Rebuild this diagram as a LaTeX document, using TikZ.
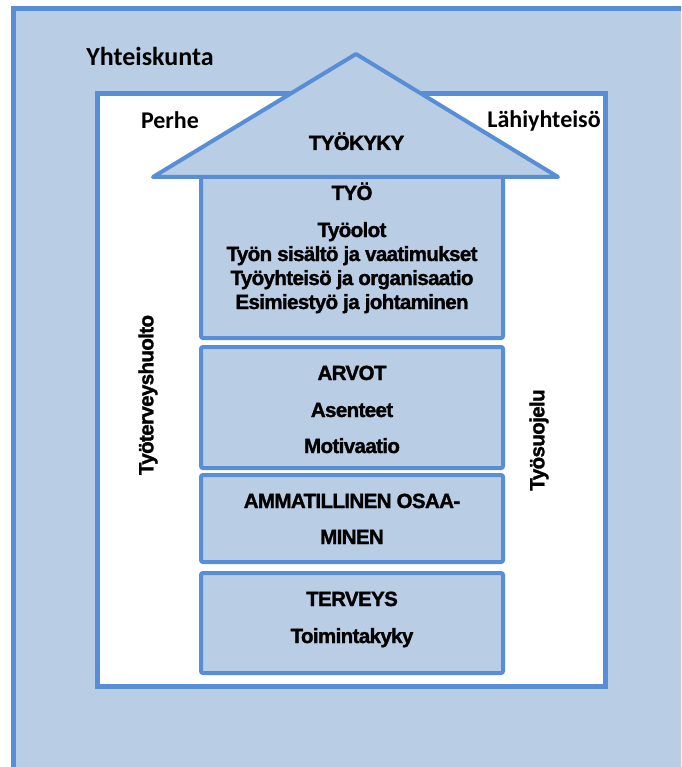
\documentclass[tikz,border=0pt]{standalone}
\usepackage{fontspec}
\setmainfont{Liberation Sans}
\newfontfamily\calfont{Carlito}
\newfontfamily\arfont[LetterSpace=-3,BoldFeatures={FakeBold=1.5}]{Liberation Sans}
\definecolor{bgblue}{HTML}{B9CDE5}
\definecolor{lineblue}{HTML}{588ED5}
\begin{document}
\begin{tikzpicture}[x=1pt,y=-1pt,
  frame/.style={draw=lineblue,line width=5pt},
  boxstyle/.style={draw=lineblue,fill=bgblue,line width=4pt,rounded corners=2pt},
  lbl/.style={font=\calfont\bfseries\fontsize{24}{28}\selectfont,anchor=base,inner sep=0pt},
  txt/.style={font=\arfont\bfseries\fontsize{20.5}{24}\selectfont,anchor=base,inner sep=0pt},
  vtxt/.style={font=\arfont\bfseries\fontsize{20.5}{24}\selectfont,rotate=90,inner sep=0pt}]
\useasboundingbox (0,0) rectangle (681,767);
\clip (0,0) rectangle (681,767);
\fill[white] (0,0) rectangle (681,767);
% outer region
\draw[frame,fill=bgblue] (13,9) rectangle (720,800);
% inner white rectangle
\draw[frame,fill=white] (97,94) rectangle (605,686);
% boxes
\draw[boxstyle] (201,177) rectangle (503,338);
\draw[boxstyle] (201,347) rectangle (503,468);
\draw[boxstyle] (201,475) rectangle (503,562);
\draw[boxstyle] (201,573) rectangle (503,673);
% roof
\draw[draw=lineblue,fill=bgblue,line width=4pt,line join=round] (356,54) -- (558,177) -- (153,177) -- cycle;
% labels
\node[lbl,font=\calfont\bfseries\fontsize{26}{30}\selectfont] (yht) at (150,66) {Yhteiskunta};
\node[lbl] (perhe) at (170,129) {Perhe};
\node[lbl] (lahi) at (544,128) {Lähiyhteisö};
\node[txt] (tyokyky) at (356.5,150) {TYÖKYKY};
\node[txt] (tyo) at (352,200) {TYÖ};
\node[txt] (t1) at (352,237) {Työolot};
\node[txt] (t2) at (352,261) {Työn sisältö ja vaatimukset};
\node[txt] (t3) at (352,285) {Työyhteisö ja organisaatio};
\node[txt] (t4) at (352,309) {Esimiestyö ja johtaminen};
\node[txt] (arvot) at (352,380) {ARVOT};
\node[txt] (a1) at (352,417) {Asenteet};
\node[txt] (a2) at (352,453) {Motivaatio};
\node[txt] (amm) at (352,508) {AMMATILLINEN OSAA-};
\node[txt] (amm2) at (352,544) {MINEN};
\node[txt] (terv) at (352,606) {TERVEYS};
\node[txt] (toim) at (352,643) {Toimintakyky};
\node[vtxt] (vl) at (148,395) {Työterveyshuolto};
\node[vtxt] (vr) at (539,440) {Työsuojelu};
\end{tikzpicture}
\end{document}
